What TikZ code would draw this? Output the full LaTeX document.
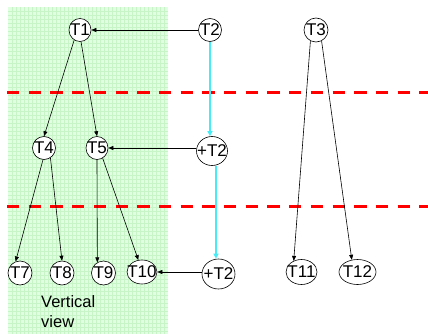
\documentclass[tikz,border=0pt]{standalone}
\usepackage{fontspec}
\setmainfont{Liberation Sans}
\usetikzlibrary{shapes.geometric,arrows.meta}
\definecolor{viewfill}{RGB}{224,255,224}
\definecolor{viewgrid}{RGB}{200,245,200}
\definecolor{flowcyan}{RGB}{70,235,245}
\definecolor{levelred}{RGB}{255,0,0}
\newcommand{\tlabel}[1]{\makebox[0pt]{#1}}
\tikzset{
  tnode/.style={ellipse, draw=black, line width=0.6pt, fill=white, inner sep=0pt,
    font=\fontsize{17}{18}\selectfont},
  tarrow/.style={draw=black, line width=0.6pt, -{Triangle[length=5pt,width=4pt]}},
  carrow/.style={draw=flowcyan, line width=1.2pt, -{Triangle[length=5pt,width=5pt]}},
  levelline/.style={draw=levelred, line width=3pt, dash pattern=on 12.3pt off 9.4pt},
}
\begin{document}
\begin{tikzpicture}[x=1pt,y=-1pt]
\useasboundingbox (0,0) rectangle (428,334);
% vertical view region
\fill[viewfill] (8,7) rectangle (168,334);
\foreach \gx in {12,16,...,164} \draw[viewgrid, line width=0.35pt] (\gx,7) -- (\gx,334);
\foreach \gy in {11,15,...,331} \draw[viewgrid, line width=0.35pt] (8,\gy) -- (168,\gy);
% level lines
\draw[levelline] (7,93) -- (428,93);
\draw[levelline] (7,206) -- (428,206);
% nodes
\node[tnode, minimum width=22pt, minimum height=23pt] (T1) at (80,30) {\tlabel{T1}};
\node[tnode, minimum width=23pt, minimum height=23pt] (T2) at (210,30) {\tlabel{T2}};
\node[tnode, minimum width=24pt, minimum height=24pt] (T3) at (316,30) {\tlabel{T3}};
\node[tnode, minimum width=23pt, minimum height=23pt] (T4) at (44,148) {\tlabel{T4}};
\node[tnode, minimum width=22pt, minimum height=23pt] (T5) at (97,148) {\tlabel{T5}};
\node[tnode, minimum width=31pt, minimum height=29pt] (P1) at (212,151) {\tlabel{+T2}};
\node[tnode, minimum width=24pt, minimum height=24pt] (T7) at (20,273) {\tlabel{T7}};
\node[tnode, minimum width=24pt, minimum height=24pt] (T8) at (62,273) {\tlabel{T8}};
\node[tnode, minimum width=24pt, minimum height=24pt] (T9) at (103.5,273) {\tlabel{T9}};
\node[tnode, minimum width=30pt, minimum height=24pt] (T10) at (142,272) {\tlabel{T10}};
\node[tnode, minimum width=33pt, minimum height=30pt] (P2) at (218.5,274) {\tlabel{+T2}};
\node[tnode, minimum width=31pt, minimum height=25pt] (T11) at (301.5,272) {\tlabel{T11}};
\node[tnode, minimum width=37pt, minimum height=25pt] (T12) at (357.5,272) {\tlabel{T12}};
% label
\node[anchor=north west, inner sep=0pt, align=left,
  font=\fontsize{16.5}{19.5}\selectfont] (vlabel) at (41,295.5) {Vertical\\view};
% tree edges
\draw[tarrow] (T1.-120) -- (T4.north);
\draw[tarrow] (T1.-85) -- (T5.north);
\draw[tarrow] (T4.-95) -- (T7.111);
\draw[tarrow] (T4.-57) -- (T8.north);
\draw[tarrow] (T5.south) -- (T9.120);
\draw[tarrow] (T5.-61) -- (T10.107);
\draw[tarrow] (T3.-117) -- (T11.125);
\draw[tarrow] (T3.-63) -- (T12.115);
% horizontal edges
\draw[tarrow] (T2.west) -- (T1.east);
\draw[tarrow] (P1.west |- T5.east) -- (T5.east);
\draw[tarrow] (P2.west |- T10.east) -- (T10.east);
% cyan flow
\draw[carrow] (T2.south) -- (T2.south |- P1.north);
\draw[carrow] ([xshift=4pt,yshift=-0.5pt]P1.south) -- ([xshift=4pt]P1.south |- P2.north);
\end{tikzpicture}
\end{document}
